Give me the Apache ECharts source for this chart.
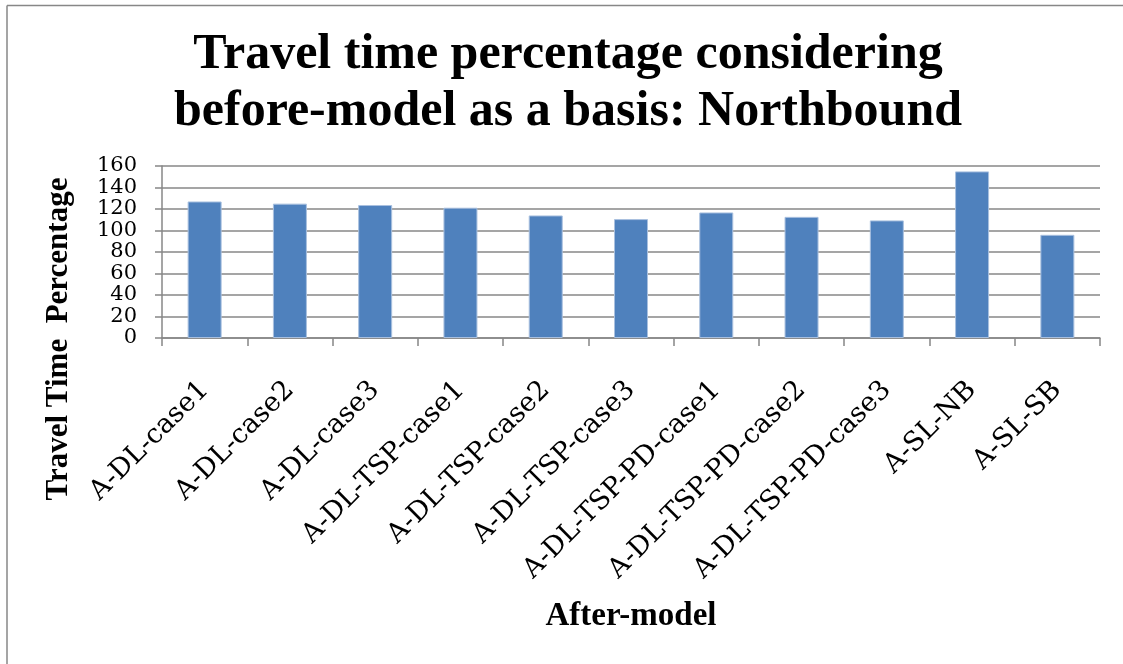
<!DOCTYPE html>
<html>
<head>
<meta charset="utf-8">
<script src="https://cdn.jsdelivr.net/npm/echarts@6/dist/echarts.min.js"></script>
<style>
  html, body { margin: 0; padding: 0; background: #ffffff; }
  #chart { width: 1123px; height: 664px; }
</style>
</head>
<body>
<div id="chart"></div>
<script>
// Travel time of each after-model scenario, as a percentage of the before-model (northbound)
const categories = [
  'A-DL-case1', 'A-DL-case2', 'A-DL-case3',
  'A-DL-TSP-case1', 'A-DL-TSP-case2', 'A-DL-TSP-case3',
  'A-DL-TSP-PD-case1', 'A-DL-TSP-PD-case2', 'A-DL-TSP-PD-case3',
  'A-SL-NB', 'A-SL-SB'
];
const travelTimePct = [127, 125, 123.7, 121.2, 114, 110.6, 116.8, 112.7, 109.4, 155, 96];
const yTicks = [0, 20, 40, 60, 80, 100, 120, 140, 160];

const titleLines = ['Travel time percentage considering', 'before-model as a basis: Northbound'];
const yName = 'Travel Time  Percentage';
const xName = 'After-model';

const SERIF = '"Liberation Serif", "Times New Roman", serif';
const WIDE_SERIF = '"DejaVu Serif", "Liberation Serif", serif';
const GREY = '#878787';

const chart = echarts.init(document.getElementById('chart'), null, { renderer: 'canvas' });

chart.setOption({
  backgroundColor: '#ffffff',
  animation: false,
  title: {
    text: titleLines.join('\n'),
    left: 568,
    top: 27,
    padding: 0,
    textAlign: 'center',
    textStyle: {
      fontFamily: SERIF,
      fontWeight: 'bold',
      fontSize: 50,
      lineHeight: 57,
      color: '#000000'
    }
  },
  grid: {
    left: 162,
    right: 23,
    top: 166,
    bottom: 326,
    containLabel: false
  },
  xAxis: {
    type: 'category',
    data: categories,
    axisLine: { show: true, lineStyle: { color: GREY, width: 1.5 } },
    axisTick: { show: true, alignWithLabel: false, length: 8, inside: false, lineStyle: { color: GREY, width: 1.5 } },
    axisLabel: {
      interval: 0,
      rotate: 45,
      margin: 48,
      fontFamily: WIDE_SERIF,
      fontSize: 27,
      color: '#000000'
    },
    splitLine: { show: false }
  },
  yAxis: {
    type: 'value',
    min: yTicks[0],
    max: yTicks[yTicks.length - 1],
    interval: yTicks[1] - yTicks[0],
    axisLine: { show: true, lineStyle: { color: GREY, width: 1.5 } },
    axisTick: { show: true, length: 7, inside: false, lineStyle: { color: GREY, width: 1.5 } },
    axisLabel: {
      margin: 25,
      fontFamily: WIDE_SERIF,
      fontSize: 21,
      color: '#000000',
      formatter: v => (yTicks.includes(v) ? String(v) : '')
    },
    splitLine: { show: true, lineStyle: { color: GREY, width: 1.5 } }
  },
  series: [{
    type: 'bar',
    data: travelTimePct,
    barWidth: 34,
    itemStyle: {
      color: '#4F81BD',
      borderColor: '#a9c0df',
      borderWidth: 1
    }
  }],
  graphic: [
    // outer frame (top and left edges)
    { type: 'line', silent: true, shape: { x1: 7, y1: 5.5, x2: 1123, y2: 5.5 }, style: { stroke: GREY, lineWidth: 1.5 } },
    { type: 'line', silent: true, shape: { x1: 7, y1: 5.5, x2: 7, y2: 664 }, style: { stroke: GREY, lineWidth: 1.5 } },
    // y-axis title
    {
      type: 'text', silent: true,
      x: 59, y: 339, rotation: Math.PI / 2,
      style: {
        text: yName, fontFamily: SERIF, fontWeight: 'bold', fontSize: 31,
        fill: '#000000', align: 'center', verticalAlign: 'middle'
      }
    },
    // x-axis title
    {
      type: 'text', silent: true,
      x: 631, y: 616,
      style: {
        text: xName, fontFamily: SERIF, fontWeight: 'bold', fontSize: 33,
        fill: '#000000', align: 'center', verticalAlign: 'middle'
      }
    }
  ]
});
</script>
</body>
</html>
